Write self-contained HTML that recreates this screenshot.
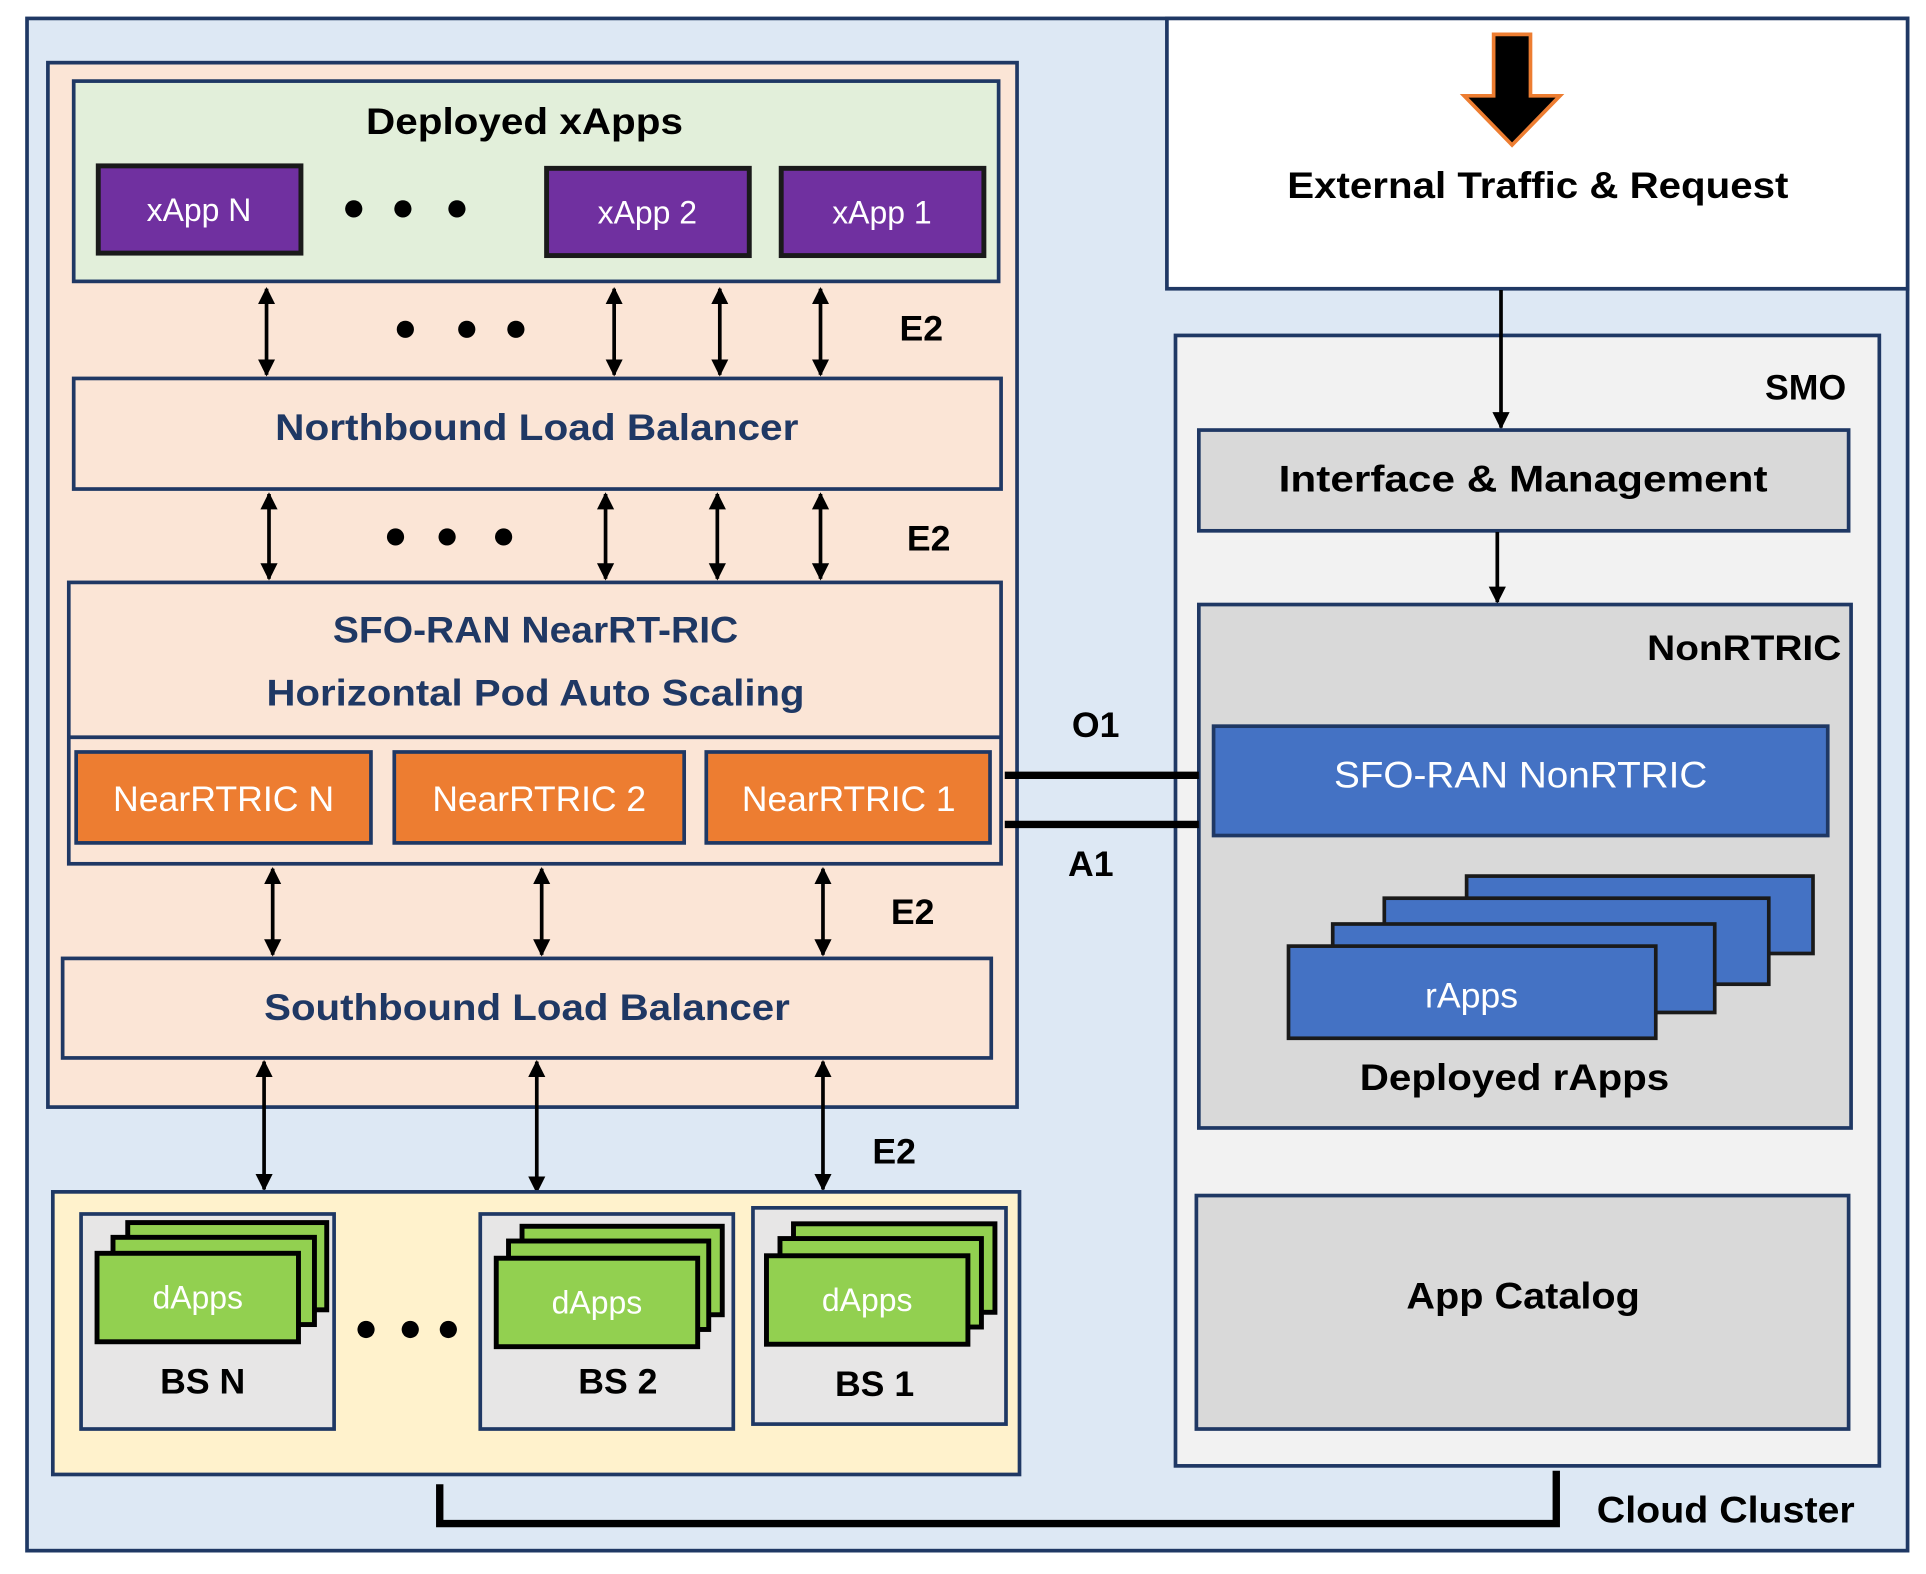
<!DOCTYPE html>
<html><head><meta charset="utf-8"><style>
html,body{margin:0;padding:0;background:#fff;}
svg{display:block;}
text{font-family:"Liberation Sans",sans-serif;font-weight:bold;}
</style></head><body>
<svg width="1926" height="1574" viewBox="0 0 1568 1281" preserveAspectRatio="none" xmlns="http://www.w3.org/2000/svg">
<defs>
<marker id="a2" viewBox="0 0 10 10" refX="9" refY="5" markerWidth="14" markerHeight="16" orient="auto-start-reverse" markerUnits="userSpaceOnUse"><path d="M0,0 L10,5 L0,10 z" fill="#000"/></marker>
</defs>
<rect x="22" y="15" width="1531" height="1247" fill="#dde8f4" stroke="#1f3864" stroke-width="3"/>
<rect x="950" y="15" width="603" height="220" fill="#fff" stroke="#1f3864" stroke-width="3"/>
<path d="M1216,28 L1246,28 L1246,78 L1270,78 L1231,118 L1192,78 L1216,78 Z" fill="#000" stroke="#ed7d31" stroke-width="3"/>
<text x="1252" y="161" font-size="30" text-anchor="middle" textLength="408" lengthAdjust="spacingAndGlyphs" fill="#000">External Traffic &amp; Request</text>

<rect x="39" y="51" width="789" height="850" fill="#fbe5d6" stroke="#1f3864" stroke-width="3"/>
<rect x="60" y="66" width="753" height="163" fill="#e2efda" stroke="#1f3864" stroke-width="3"/>
<text x="427" y="109" font-size="30" text-anchor="middle" textLength="258" lengthAdjust="spacingAndGlyphs">Deployed xApps</text>
<g stroke="#1a1a1a" stroke-width="4" fill="#7030a0">
<rect x="80" y="135" width="165" height="71"/><rect x="445" y="137" width="165" height="71"/><rect x="636" y="137" width="165" height="71"/></g>
<g fill="#fff" font-size="26" text-anchor="middle">
<text x="162" y="180" style="font-weight:normal">xApp N</text><text x="527" y="182" style="font-weight:normal">xApp 2</text><text x="718" y="182" style="font-weight:normal">xApp 1</text></g>
<g fill="#000"><circle cx="288" cy="170" r="7"/><circle cx="328" cy="170" r="7"/><circle cx="372" cy="170" r="7"/>
<circle cx="330" cy="268" r="7"/><circle cx="380" cy="268" r="7"/><circle cx="420" cy="268" r="7"/>
<circle cx="322" cy="437" r="7"/><circle cx="364" cy="437" r="7"/><circle cx="410" cy="437" r="7"/></g>
<g stroke="#000" stroke-width="3" marker-start="url(#a2)" marker-end="url(#a2)">
<line x1="217" y1="235" x2="217" y2="305"/><line x1="500" y1="235" x2="500" y2="305"/><line x1="586" y1="235" x2="586" y2="305"/><line x1="668" y1="235" x2="668" y2="305"/>
<line x1="219" y1="402" x2="219" y2="471"/><line x1="493" y1="402" x2="493" y2="471"/><line x1="584" y1="402" x2="584" y2="471"/><line x1="668" y1="402" x2="668" y2="471"/>
<line x1="222" y1="707" x2="222" y2="777"/><line x1="441" y1="707" x2="441" y2="777"/><line x1="670" y1="707" x2="670" y2="777"/>
<line x1="215" y1="864" x2="215" y2="968"/><line x1="437" y1="864" x2="437" y2="970"/><line x1="670" y1="864" x2="670" y2="968"/>
</g>
<g font-size="29" fill="#000" text-anchor="middle">
<text x="750" y="277">E2</text><text x="756" y="448">E2</text><text x="743" y="752">E2</text><text x="728" y="947">E2</text>
<text x="892" y="600">O1</text><text x="888" y="713">A1</text></g>

<rect x="60" y="308" width="755" height="90" fill="#fbe5d6" stroke="#1f3864" stroke-width="3"/>
<text x="437" y="358" font-size="30" text-anchor="middle" fill="#1f3864" textLength="426" lengthAdjust="spacingAndGlyphs">Northbound Load Balancer</text>
<rect x="56" y="474" width="759" height="229" fill="#fbe5d6" stroke="#1f3864" stroke-width="3"/>
<line x1="56" y1="600" x2="815" y2="600" stroke="#1f3864" stroke-width="3"/>
<text x="436" y="523" font-size="30" text-anchor="middle" fill="#1f3864" textLength="330" lengthAdjust="spacingAndGlyphs">SFO-RAN NearRT-RIC</text>
<text x="436" y="574" font-size="30" text-anchor="middle" fill="#1f3864" textLength="438" lengthAdjust="spacingAndGlyphs">Horizontal Pod Auto Scaling</text>
<g fill="#ed7d31" stroke="#1f3864" stroke-width="3">
<rect x="62" y="612" width="240" height="74"/><rect x="321" y="612" width="236" height="74"/><rect x="575" y="612" width="231" height="74"/></g>
<g fill="#fff" font-size="29" text-anchor="middle">
<text x="182" y="660" style="font-weight:normal" textLength="180" lengthAdjust="spacingAndGlyphs">NearRTRIC N</text>
<text x="439" y="660" style="font-weight:normal" textLength="174" lengthAdjust="spacingAndGlyphs">NearRTRIC 2</text>
<text x="691" y="660" style="font-weight:normal" textLength="174" lengthAdjust="spacingAndGlyphs">NearRTRIC 1</text></g>
<rect x="51" y="780" width="756" height="81" fill="#fbe5d6" stroke="#1f3864" stroke-width="3"/>
<text x="429" y="830" font-size="30" text-anchor="middle" fill="#1f3864" textLength="428" lengthAdjust="spacingAndGlyphs">Southbound Load Balancer</text>

<rect x="43" y="970" width="787" height="230" fill="#fff2cc" stroke="#1f3864" stroke-width="3"/>
<g fill="#000"><circle cx="298" cy="1082" r="7"/><circle cx="334" cy="1082" r="7"/><circle cx="365" cy="1082" r="7"/></g>
<g fill="#e7e6e6" stroke="#1f3864" stroke-width="3">
<rect x="66" y="988" width="206" height="175"/><rect x="391" y="988" width="206" height="175"/><rect x="613" y="983" width="206" height="176"/></g>
<g fill="#92d050" stroke="#000" stroke-width="4">
<rect x="104" y="995" width="162" height="71"/><rect x="92" y="1007" width="164" height="71"/><rect x="79" y="1020" width="164" height="72"/>
<rect x="425" y="998" width="163" height="72"/><rect x="414" y="1010" width="163" height="72"/><rect x="404" y="1024" width="164" height="72"/>
<rect x="646" y="996" width="164" height="72"/><rect x="635" y="1008" width="164" height="72"/><rect x="624" y="1022" width="164" height="72"/></g>
<g fill="#fff" font-size="26" text-anchor="middle">
<text x="161" y="1065" style="font-weight:normal">dApps</text><text x="486" y="1069" style="font-weight:normal">dApps</text><text x="706" y="1067" style="font-weight:normal">dApps</text></g>
<g fill="#000" font-size="29" text-anchor="middle">
<text x="165" y="1134">BS N</text><text x="503" y="1134">BS 2</text><text x="712" y="1136">BS 1</text></g>

<path d="M358,1208 L358,1240 L1267,1240 L1267,1197" fill="none" stroke="#000" stroke-width="6"/>
<text x="1405" y="1239" font-size="30" text-anchor="middle" fill="#000" textLength="210" lengthAdjust="spacingAndGlyphs">Cloud Cluster</text>

<rect x="957" y="273" width="573" height="920" fill="#f2f2f2" stroke="#1f3864" stroke-width="3"/>
<text x="1503" y="325" font-size="29" text-anchor="end" fill="#000">SMO</text>
<line x1="1222" y1="236" x2="1222" y2="348" stroke="#000" stroke-width="3" marker-end="url(#a2)"/>
<rect x="976" y="350" width="529" height="82" fill="#d9d9d9" stroke="#1f3864" stroke-width="3"/>
<text x="1240" y="400" font-size="30" text-anchor="middle" fill="#000" textLength="398" lengthAdjust="spacingAndGlyphs">Interface &amp; Management</text>
<line x1="1219" y1="433" x2="1219" y2="490" stroke="#000" stroke-width="3" marker-end="url(#a2)"/>
<rect x="976" y="492" width="531" height="426" fill="#d9d9d9" stroke="#1f3864" stroke-width="3"/>
<text x="1499" y="537" font-size="29" text-anchor="end" fill="#000" textLength="158" lengthAdjust="spacingAndGlyphs">NonRTRIC</text>
<rect x="988" y="591" width="500" height="89" fill="#4472c4" stroke="#1f3864" stroke-width="3"/>
<text x="1238" y="641" font-size="30" text-anchor="middle" fill="#fff" style="font-weight:normal" textLength="304" lengthAdjust="spacingAndGlyphs">SFO-RAN NonRTRIC</text>
<line x1="818" y1="631" x2="976" y2="631" stroke="#000" stroke-width="6"/>
<line x1="818" y1="671" x2="976" y2="671" stroke="#000" stroke-width="6"/>
<g fill="#4472c4" stroke="#1a1a1a" stroke-width="3">
<rect x="1194" y="713" width="282" height="63"/><rect x="1127" y="731" width="313" height="70"/><rect x="1085" y="752" width="311" height="72"/><rect x="1049" y="770" width="299" height="75"/></g>
<text x="1198" y="820" font-size="29" text-anchor="middle" fill="#fff" style="font-weight:normal">rApps</text>
<text x="1233" y="887" font-size="30" text-anchor="middle" fill="#000" textLength="252" lengthAdjust="spacingAndGlyphs">Deployed rApps</text>
<rect x="974" y="973" width="531" height="190" fill="#d9d9d9" stroke="#1f3864" stroke-width="3"/>
<text x="1240" y="1065" font-size="30" text-anchor="middle" fill="#000" textLength="190" lengthAdjust="spacingAndGlyphs">App Catalog</text>
</svg>
</body></html>
